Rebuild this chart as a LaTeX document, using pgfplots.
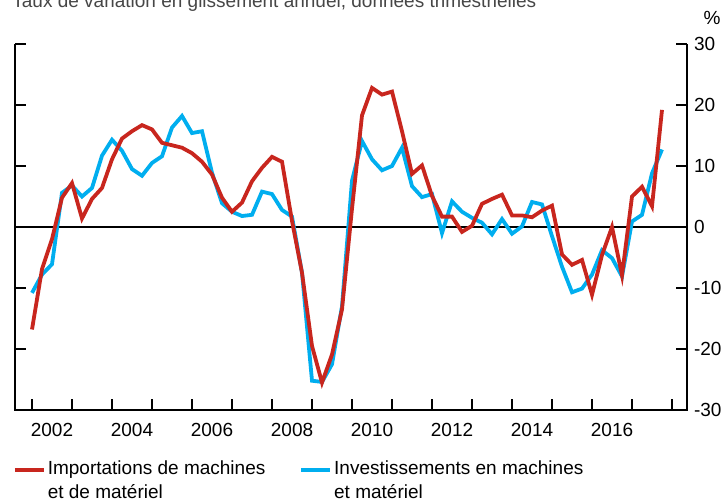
\documentclass[border=0pt]{standalone}
\usepackage{fontspec}
\setmainfont{Liberation Sans}
\usepackage{pgfplots}
\usepackage{pgfplotstable}
\pgfplotsset{compat=1.18}
\definecolor{impred}{RGB}{200,38,30}
\definecolor{invblue}{RGB}{0,174,239}
\definecolor{titlegray}{RGB}{70,70,70}

% year-on-year change, quarterly (t = 2002 + k/4)
\pgfplotstableread{
t imp inv
2002.00 -16.8 -10.8
2002.25 -6.9 -7.8
2002.50 -2.0 -6.1
2002.75 4.8 5.6
2003.00 7.2 6.8
2003.25 1.4 5.0
2003.50 4.6 6.4
2003.75 6.4 11.7
2004.00 11.1 14.3
2004.25 14.5 12.5
2004.50 15.7 9.5
2004.75 16.7 8.4
2005.00 16.0 10.5
2005.25 13.8 11.6
2005.50 13.4 16.3
2005.75 13.0 18.2
2006.00 12.1 15.4
2006.25 10.7 15.7
2006.50 8.6 8.9
2006.75 4.8 3.9
2007.00 2.5 2.5
2007.25 4.0 1.8
2007.50 7.5 2.0
2007.75 9.7 5.8
2008.00 11.5 5.4
2008.25 10.7 2.8
2008.50 1.0 1.7
2008.75 -7.5 -7.5
2009.00 -19.5 -25.2
2009.25 -25.5 -25.4
2009.50 -20.9 -22.5
2009.75 -13.5 -13.0
2010.00 3.0 7.6
2010.25 18.3 14.1
2010.50 22.8 11.1
2010.75 21.7 9.3
2011.00 22.2 10.0
2011.25 15.7 13.0
2011.50 8.7 6.7
2011.75 10.1 4.9
2012.00 5.1 5.4
2012.25 1.7 -1.0
2012.50 1.7 4.2
2012.75 -0.8 2.5
2013.00 0.2 1.5
2013.25 3.8 0.7
2013.50 4.6 -1.2
2013.75 5.3 1.3
2014.00 1.9 -1.1
2014.25 1.9 0.1
2014.50 1.6 4.1
2014.75 2.7 3.7
2015.00 3.5 -1.5
2015.25 -4.5 -6.5
2015.50 -6.2 -10.7
2015.75 -5.4 -10.1
2016.00 -11.1 -7.8
2016.25 -4.6 -3.8
2016.50 0.0 -5.1
2016.75 -7.9 -8.1
2017.00 5.0 0.9
2017.25 6.6 2.0
2017.50 3.4 8.8
2017.75 19.2 12.7
}\quarterly

\begin{document}
\begin{tikzpicture}
\begin{axis}[
  scale only axis,
  width=336pt, height=183pt,
  xmin=2001.575, xmax=2018.375,
  ymin=-30, ymax=30,
  clip=false,
  axis line style={draw=none},
  tick align=inside,
  xtick pos=bottom,
  xtick={2002,2003,...,2018},
  xticklabels={},
  extra x ticks={2002.5,2004.5,2006.5,2008.5,2010.5,2012.5,2014.5,2016.5},
  extra x tick labels={2002,2004,2006,2008,2010,2012,2014,2016},
  extra x tick style={major tick length=0pt},
  ytick={-30,-20,-10,0,10,20,30},
  yticklabels={-30,-20,-10,0,10,20,30},
  yticklabel pos=right,
  ytick pos=both,
  major tick length=5.5pt,
  tick style={line width=1pt, black},
  tick label style={font=\fontsize{9.5}{11}\selectfont, black},
  xticklabel style={yshift=-3pt},
  legend image code/.code={\draw[#1] (0pt,5.5pt) -- (14.5pt,5.5pt);},
  legend style={at={(rel axis cs:0,0)}, anchor=north west, xshift=-1pt, yshift=-25.5pt,
    draw=none, fill=none, inner sep=0pt, outer sep=0pt,
    font=\fontsize{9.5}{12}\selectfont,
    legend columns=2,
    nodes={inner sep=0pt, align=left},
    /tikz/every odd column/.append style={column sep=1pt},
    /tikz/every even column/.append style={column sep=17pt}},
  legend cell align=left,
]
\addlegendimage{impred, line width=1.9pt}
\addlegendentry{Importations de machines\\et de matériel}
\addlegendimage{invblue, line width=1.9pt}
\addlegendentry{Investissements en machines\\et matériel}

\addplot[black, line width=1pt, forget plot] coordinates {(2001.575,0) (2018.375,0)};
\addplot[invblue, line width=1.9pt, forget plot] table[x=t, y=inv] {\quarterly};
\addplot[impred, line width=1.9pt, forget plot] table[x=t, y=imp] {\quarterly};

\draw[line width=1pt] (rel axis cs:0,1) -- (rel axis cs:0,0) -- (rel axis cs:1,0) -- (rel axis cs:1,1);
\coordinate (bl) at (rel axis cs:0,0);
\coordinate (tr) at (rel axis cs:1,1);
\coordinate (tl) at (rel axis cs:0,1);
\end{axis}
\node[anchor=base west, font=\fontsize{9.5}{11}\selectfont, text=titlegray, inner sep=0pt]
  at ([shift={(-1.5pt,18.5pt)}]tl) {Taux de variation en glissement annuel, données trimestrielles};
\node[font=\fontsize{9.5}{11}\selectfont, inner sep=0pt] at ([shift={(12.5pt,13pt)}]tr) {\%};
\pgfresetboundingbox
\path[use as bounding box] ([shift={(-7.5pt,-46.5pt)}]bl) rectangle ([shift={(17pt,22pt)}]tr);
\end{tikzpicture}
\end{document}
